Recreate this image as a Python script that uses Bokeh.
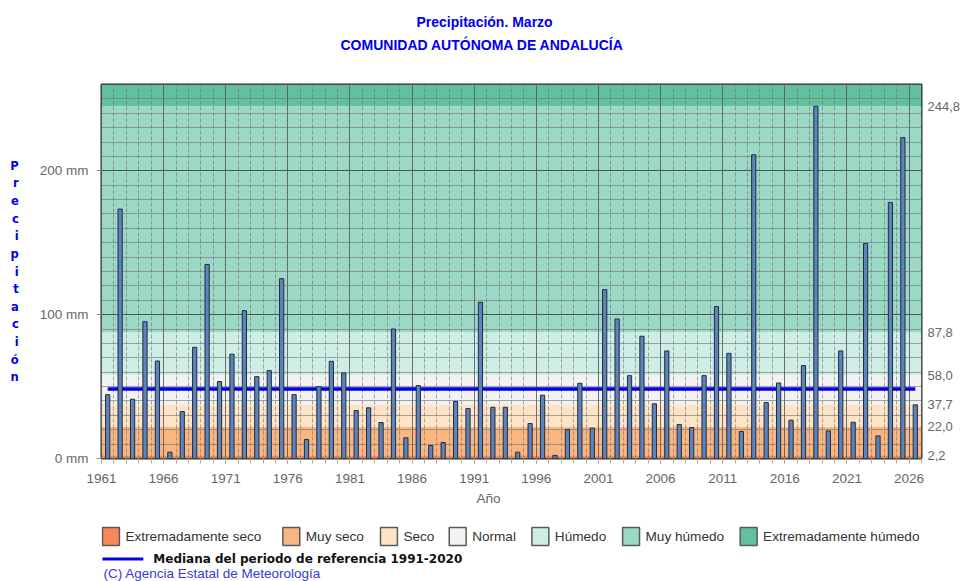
from bokeh.plotting import figure
from bokeh.layouts import column
from bokeh.models import Range1d, FixedTicker, Grid, Title, LinearAxis
from bokeh.core.properties import value
from bokeh.embed import file_html
from bokeh.resources import INLINE

# ---------------- data ----------------
years = [1961, 1962, 1963, 1964, 1965, 1966, 1967, 1968, 1969, 1970,
         1971, 1972, 1973, 1974, 1975, 1976, 1977, 1978, 1979, 1980,
         1981, 1982, 1983, 1984, 1985, 1986, 1987, 1988, 1989, 1990,
         1991, 1992, 1993, 1994, 1995, 1996, 1997, 1998, 1999, 2000,
         2001, 2002, 2003, 2004, 2005, 2006, 2007, 2008, 2009, 2010,
         2011, 2012, 2013, 2014, 2015, 2016, 2017, 2018, 2019, 2020,
         2021, 2022, 2023, 2024, 2025, 2026]
precip = [44.4, 173.4, 41.2, 95.1, 67.8, 4.4, 32.6, 77.3, 134.9, 53.5,
          72.5, 102.8, 56.9, 61.1, 125.0, 44.4, 13.2, 50.0, 67.6, 59.5,
          33.3, 35.2, 25.0, 90.0, 14.4, 50.7, 9.0, 11.1, 39.6, 34.7,
          108.6, 35.6, 35.6, 4.4, 24.3, 44.0, 2.2, 20.1, 52.3, 21.1,
          117.4, 97.0, 57.6, 85.0, 38.0, 74.8, 23.6, 21.5, 57.6, 105.6,
          73.1, 18.8, 211.1, 38.9, 52.5, 26.6, 64.6, 244.8, 19.2, 74.8,
          25.2, 149.5, 15.7, 178.0, 223.1, 37.3]
median_ref = 48.3
class_limits = [2.2, 22.0, 37.7, 58.0, 87.8, 244.8]
class_limit_labels = ["2,2", "22,0", "37,7", "58,0", "87,8", "244,8"]
class_names = ["Extremadamente seco", "Muy seco", "Seco", "Normal",
               "Húmedo", "Muy húmedo", "Extremadamente húmedo"]
class_colors = ["#f5895a", "#fab680", "#fde4c6", "#f2f2f2",
                "#ceeee5", "#9bd9c6", "#62c09f"]
y_ticks = [0, 100, 200]
y_tick_labels = ["0 mm", "100 mm", "200 mm"]
x_ticks = [1961, 1966, 1971, 1976, 1981, 1986, 1991, 1996, 2001, 2006,
           2011, 2016, 2021, 2026]
title_text = "Precipitación. Marzo"
subtitle_text = "COMUNIDAD AUTÓNOMA DE ANDALUCÍA"
ylabel_text = "Precipitación"
xlabel_text = "Año"
median_text = "Mediana del periodo de referencia 1991-2020"
copyright_text = "(C) Agencia Estatal de Meteorología"

# ---------------- layout / style ----------------
X0, X1 = 1961, 2027
Y0, Y1 = 0, 260
W = 963
H_MAIN, H_LEG = 515, 66
BL, BR, BT, BB = 101, 39, 84, 57

SANS = "Liberation Sans"
VERD = "DejaVu Sans"
GRAY = "#666666"
BLUE = "#0000ee"
MEDIAN_COLOR = "#0000e6"

p = figure(width=W, height=H_MAIN, x_range=Range1d(X0, X1), y_range=Range1d(Y0, Y1),
           output_backend="svg", toolbar_location=None,
           min_border_left=BL, min_border_right=BR, min_border_top=BT, min_border_bottom=BB,
           background_fill_color="white", border_fill_color="white")

# class bands (background)
band_bottom = [Y0] + class_limits
band_top = class_limits + [Y1]
p.quad(left=X0, right=X1, bottom=band_bottom, top=band_top,
       fill_color=class_colors, line_color=None, level="image")

# grids
p.xgrid.visible = False
p.ygrid.visible = False
minor_years = years + [X1]
p.add_layout(Grid(dimension=0, ticker=FixedTicker(ticks=minor_years),
                  grid_line_color="#6e6e6e", grid_line_alpha=0.6, grid_line_dash="4 2"))
p.add_layout(Grid(dimension=0, ticker=FixedTicker(ticks=x_ticks),
                  grid_line_color="#555555", grid_line_alpha=0.75))
minor_y = list(range(Y0, Y1, 10))
p.add_layout(Grid(dimension=1, ticker=FixedTicker(ticks=minor_y),
                  grid_line_color="#6e6e6e", grid_line_alpha=0.6))
p.add_layout(Grid(dimension=1, ticker=FixedTicker(ticks=y_ticks[1:]),
                  grid_line_color="#3c3c3c", grid_line_alpha=0.75))

# median line
p.line(x=[years[0] + 0.5, years[-1] + 0.5], y=[median_ref, median_ref],
       line_color=MEDIAN_COLOR, line_width=3.5)

# bars
p.vbar(x=[y + 0.5 for y in years], top=precip, bottom=0, width=0.34,
       fill_color="#5f82b8", line_color="#1e2d40", line_width=1)

# frame
p.outline_line_color = "#2b2b2b"
p.outline_line_width = 2

# x axis
xa = p.xaxis[0]
xa.ticker = FixedTicker(ticks=x_ticks, minor_ticks=minor_years)
xa.axis_line_color = None
xa.major_tick_in = 0
xa.major_tick_out = 5
xa.minor_tick_in = 0
xa.minor_tick_out = 5
xa.major_tick_line_color = "#888888"
xa.minor_tick_line_color = "#aaaaaa"
xa.major_label_standoff = 10
xa.major_label_text_font = SANS
xa.major_label_text_font_size = "13.5px"
xa.major_label_text_color = GRAY

# left y axis with stacked vertical label
ya = p.yaxis[0]
ya.ticker = FixedTicker(ticks=y_ticks)
ya.major_label_overrides = {t: s for t, s in zip(y_ticks, y_tick_labels)}
ya.axis_line_color = None
ya.major_tick_in = 0
ya.major_tick_out = 5
ya.major_tick_line_color = "#888888"
ya.minor_tick_line_color = None
ya.major_label_standoff = 8
ya.major_label_text_font = SANS
ya.major_label_text_font_size = "13.5px"
ya.major_label_text_color = GRAY
ya.axis_label = "\n".join(ylabel_text)
ya.axis_label_orientation = "horizontal"
ya.axis_label_text_font = VERD
ya.axis_label_text_font_style = "bold"
ya.axis_label_text_font_size = "11.5px"
ya.axis_label_text_color = BLUE
ya.axis_label_text_line_height = 1.26
ya.axis_label_standoff = 18

# right axis with class limits
ra = LinearAxis(ticker=FixedTicker(ticks=class_limits),
                major_label_overrides={v: s for v, s in zip(class_limits, class_limit_labels)})
ra.axis_line_color = None
ra.major_tick_in = 0
ra.major_tick_out = 0
ra.minor_tick_line_color = None
ra.major_tick_line_color = None
ra.major_label_standoff = 6
ra.major_label_text_font = SANS
ra.major_label_text_font_size = "13px"
ra.major_label_text_color = GRAY
p.add_layout(ra, "right")

# titles above (first added = closest to frame)
p.add_layout(Title(text=" ", text_font_size="1px", standoff=27), "above")
p.add_layout(Title(text=subtitle_text, align="left", offset=239, standoff=4,
                   text_font=SANS, text_font_style="bold", text_font_size="14px",
                   text_color=BLUE), "above")
p.add_layout(Title(text=title_text, align="left", offset=315, standoff=6,
                   text_font=SANS, text_font_style="bold", text_font_size="14px",
                   text_color=BLUE), "above")

# x label below the axis
p.add_layout(Title(text=xlabel_text, align="left", offset=375, standoff=10, vertical_align="top",
                   text_font=SANS, text_font_style="normal", text_font_size="13.5px",
                   text_color=GRAY), "below")

# ---------------- legend strip (pixel coordinates, y downward) ----------------
# the strip's frame is aligned with the main frame, so its x range is the page x of that frame
leg = figure(width=W, height=H_LEG, x_range=Range1d(BL, W - BR), y_range=Range1d(H_LEG, 0),
             output_backend="svg", toolbar_location=None, min_border=0,
             x_axis_location=None, y_axis_location=None,
             background_fill_color="white", border_fill_color="white")
leg.outline_line_color = None
leg.grid.visible = False

leg_x = [101, 282, 380, 449, 532, 623, 741]
sq_top, sq_size = 12, 18
leg.quad(left=[x + 1 for x in leg_x], right=[x + sq_size for x in leg_x],
         top=[sq_top] * len(leg_x), bottom=[sq_top + sq_size] * len(leg_x),
         fill_color=class_colors, line_color="#5a5a5a", line_width=1.5)
leg.text(x=[x + 24 for x in leg_x], y=[sq_top + sq_size / 2] * len(leg_x), text=class_names,
         text_font=value(SANS), text_font_size="13.6px", text_color="#333333",
         text_align="left", text_baseline="middle")

row2_y = 43
leg.line(x=[102, 143], y=[row2_y + 0.5, row2_y + 0.5], line_color=MEDIAN_COLOR, line_width=3)
leg.text(x=[153], y=[row2_y], text=[median_text],
         text_font=value(VERD), text_font_style="bold", text_font_size="12px",
         text_color="#111111", text_align="left", text_baseline="middle")
leg.text(x=[103], y=[58], text=[copyright_text],
         text_font=value(SANS), text_font_size="13.5px", text_color="#3a3ad0",
         text_align="left", text_baseline="middle")

layout = column(p, leg, spacing=0)
open("out.html", "w").write(file_html(layout, INLINE))
